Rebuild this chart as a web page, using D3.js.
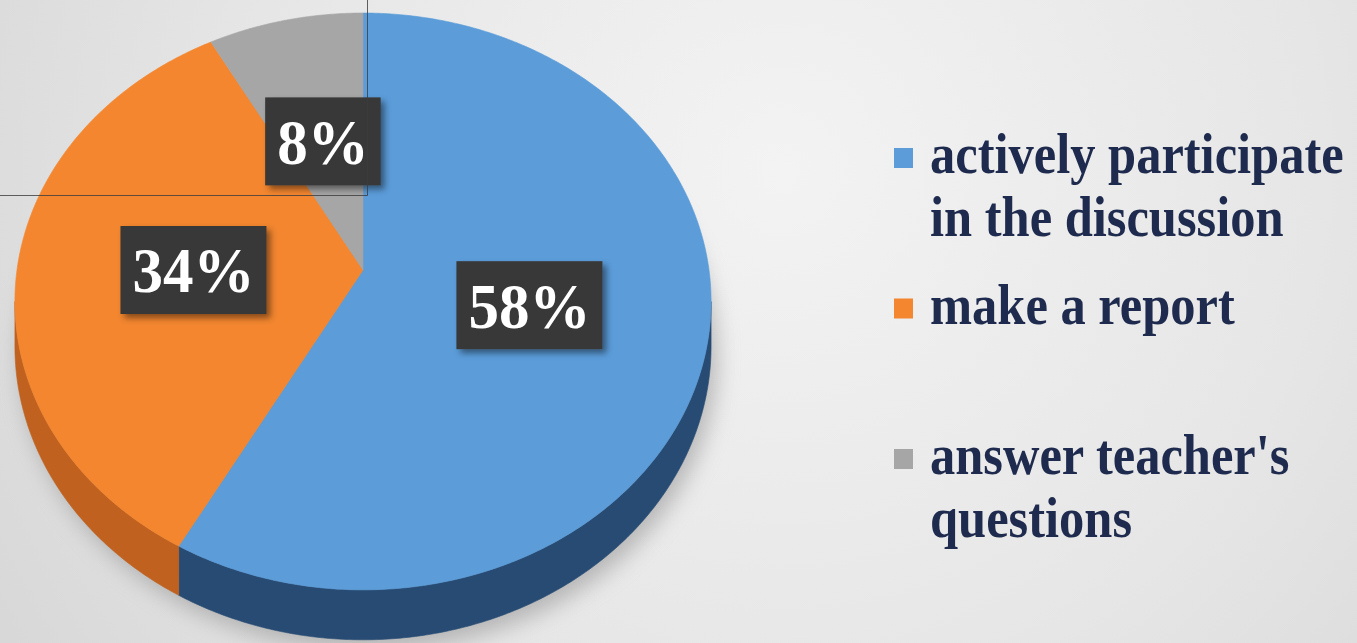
<!DOCTYPE html>
<html>
<head>
<meta charset="utf-8">
<script src="https://cdn.jsdelivr.net/npm/d3@7/dist/d3.min.js"></script>
<style>
  html, body { margin: 0; padding: 0; background: #e8e8e8; overflow: hidden; }
  svg { display: block; }
</style>
</head>
<body>
<svg id="chart" width="1357" height="643"></svg>
<script>
// Survey shares: how students take part in class
const categories = ["actively participate in the discussion", "make a report", "answer teacher's questions"];
const legendLines = [["actively participate", "in the discussion"], ["make a report"], ["answer teacher's", "questions"]];
const values = [58, 34, 8];
const valueLabels = ["58%", "34%", "8%"];
const topColors = ["#5b9cd9", "#f3862f", "#a6a6a6"];
const sideColors = ["#284b73", "#c0611f", "#7a7a7a"];

const W = 1357, H = 643;
const svg = d3.select("#chart");
const defs = svg.append("defs");

// page background
const bg = defs.append("radialGradient").attr("id", "bg")
  .attr("gradientUnits", "userSpaceOnUse")
  .attr("cx", 780).attr("cy", 170).attr("r", 900);
bg.append("stop").attr("offset", "0%").attr("stop-color", "#f3f3f3");
bg.append("stop").attr("offset", "60%").attr("stop-color", "#e6e6e6");
bg.append("stop").attr("offset", "100%").attr("stop-color", "#d8d8d8");
svg.append("rect").attr("width", W).attr("height", H).attr("fill", "url(#bg)");

const blur = defs.append("filter").attr("id", "pieShadow")
  .attr("x", "-20%").attr("y", "-20%").attr("width", "140%").attr("height", "140%");
blur.append("feGaussianBlur").attr("stdDeviation", 11);

const boxShadow = defs.append("filter").attr("id", "boxShadow")
  .attr("x", "-20%").attr("y", "-20%").attr("width", "150%").attr("height", "150%");
boxShadow.append("feDropShadow").attr("dx", 4).attr("dy", 4)
  .attr("stdDeviation", 3).attr("flood-color", "#000").attr("flood-opacity", 0.45);

// perspective disc: angle 0 at 12 o'clock, clockwise
const cx = 363, cy = 270;      // projected centre of the disc
const A = 346, B = 285;        // horizontal / vertical scale of the top face
const k = 0.109;               // foreshortening of the far half
const depth = 44.5;            // thickness of the disc

function proj(phi, r, down) {
  const u = Math.sin(phi) * r, v = Math.cos(phi) * r;
  const w = 1 + k * v;
  return [cx + A * u / w, cy - B * v / w + (down ? depth / w : 0)];
}

function arcPoints(a0, a1, r, down) {
  const n = Math.max(2, Math.ceil((a1 - a0) / 0.01));
  return d3.range(n + 1).map(i => proj(a0 + (a1 - a0) * i / n, r, down));
}

const line = d3.line();
const pie = d3.pie().sort(null).value(d => d).startAngle(0).endAngle(2 * Math.PI);
const arcs = pie(values);

// soft shadow under the disc
const outlineDown = arcPoints(0, 2 * Math.PI, 1, true);
svg.append("path")
  .attr("d", line(outlineDown) + "Z")
  .attr("transform", "translate(6,10)")
  .attr("fill", "#8c8c8c").attr("opacity", 0.55)
  .attr("filter", "url(#pieShadow)");

// visible outer wall spans the front half
const vis0 = Math.acos(-k), vis1 = 2 * Math.PI - Math.acos(-k);
const sides = svg.append("g");
arcs.forEach((d, i) => {
  const a0 = Math.max(d.startAngle, vis0), a1 = Math.min(d.endAngle, vis1);
  if (a1 <= a0) return;
  const pts = arcPoints(a0, a1, 1, false).concat(arcPoints(a0, a1, 1, true).reverse());
  sides.append("path").attr("d", line(pts) + "Z").attr("fill", sideColors[i])
    .attr("stroke", sideColors[i]).attr("stroke-width", 0.6);
});

// top faces
const tops = svg.append("g");
arcs.forEach((d, i) => {
  const pts = [proj(0, 0, false)].concat(arcPoints(d.startAngle, d.endAngle, 1, false));
  tops.append("path").attr("d", line(pts) + "Z").attr("fill", topColors[i])
    .attr("stroke", topColors[i]).attr("stroke-width", 0.6);
});

// value labels on dark boxes
const labels = svg.append("g");
arcs.forEach((d, i) => {
  const mid = (d.startAngle + d.endAngle) / 2;
  const [lx, ly] = proj(mid, 0.49, false);
  const g = labels.append("g").attr("transform", `translate(${lx},${ly})`);
  const rect = g.append("rect").attr("fill", "#373737").attr("filter", "url(#boxShadow)");
  const t = g.append("text")
    .attr("text-anchor", "middle")
    .attr("dy", "0.35em")
    .attr("font-family", "'Liberation Serif', 'Times New Roman', serif")
    .attr("font-weight", "bold")
    .attr("font-size", 61)
    .attr("fill", "#ffffff")
    .attr("transform", "scale(1,1.05)")
    .text(valueLabels[i]);
  const bb = t.node().getBBox();
  const padX = 12, hBox = 88;
  rect.attr("x", -bb.width / 2 - padX).attr("y", -hBox / 2)
    .attr("width", bb.width + 2 * padX).attr("height", hBox);
});

// thin guide lines
svg.append("line").attr("x1", 367.5).attr("x2", 367.5).attr("y1", 0).attr("y2", 195.5)
  .attr("stroke", "#3c3c3c").attr("stroke-width", 1).attr("opacity", 0.8);
svg.append("line").attr("x1", 0).attr("x2", 367.5).attr("y1", 195.5).attr("y2", 195.5)
  .attr("stroke", "#3c3c3c").attr("stroke-width", 1).attr("opacity", 0.8);

// legend
const legend = svg.append("g");
categories.forEach((c, i) => {
  const sy = 158 + i * 150.5;
  legend.append("rect").attr("x", 894).attr("y", sy - 10).attr("width", 19).attr("height", 20)
    .attr("fill", topColors[i]);
  legendLines[i].forEach((txt, j) => {
    legend.append("text")
      .attr("transform", `translate(930,${sy + 15 + j * 63}) scale(1,1.13)`)
      .attr("font-family", "'Liberation Serif', 'Times New Roman', serif")
      .attr("font-weight", "bold")
      .attr("font-size", 50.5)
      .attr("fill", "#1f2b4e")
      .text(txt);
  });
});
</script>
</body>
</html>
